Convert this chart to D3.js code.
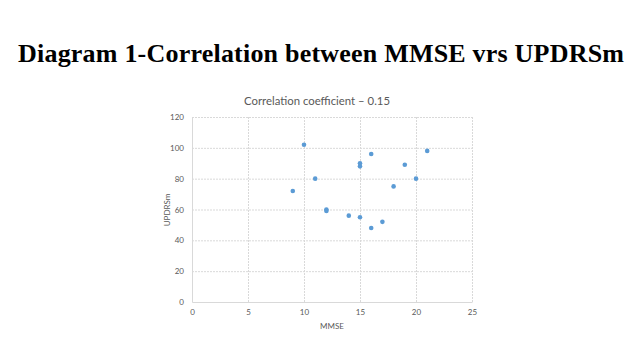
<!DOCTYPE html>
<html>
<head>
<meta charset="utf-8">
<script src="https://cdn.jsdelivr.net/npm/d3@7"></script>
<style>
  body { margin: 0; background: #fff; }
  svg { display: block; }
</style>
</head>
<body>
<div id="chart"></div>
<script>
var mmse   = [9, 10, 11, 12, 12, 14, 15, 15, 15, 16, 16, 17, 18, 19, 20, 21];
var updrsm = [72, 102, 80, 60, 59, 56, 90, 88, 55, 96, 48, 52, 75, 89, 80, 98];
var xTicks = [0, 5, 10, 15, 20, 25];
var yTicks = [0, 20, 40, 60, 80, 100, 120];

var svg = d3.select("#chart")
            .append("svg")
            .attr("width", 640)
            .attr("height", 360);

var x = d3.scaleLinear().domain([0, 25]).range([192, 472]),
    y = d3.scaleLinear().domain([0, 120]).range([302, 117]);

// main title
svg.append("text")
   .attr("x", 321).attr("y", 62)
   .attr("text-anchor", "middle")
   .style("font-family", "'Liberation Serif', 'Times New Roman', serif")
   .style("font-weight", "bold")
   .style("font-size", "26px")
   .attr("textLength", 606)
   .text("Diagram 1-Correlation between MMSE vrs UPDRSm");

// chart title
svg.append("text")
   .attr("x", 317).attr("y", 105)
   .attr("text-anchor", "middle")
   .style("font-family", "Lato, 'Open Sans', sans-serif")
   .style("font-size", "12px")
   .style("fill", "#595959")
   .attr("textLength", 146)
   .attr("lengthAdjust", "spacingAndGlyphs")
   .text("Correlation coefficient \u2013 0.15");

// gridlines
svg.append("g").selectAll("line")
   .data(yTicks.slice(1)).enter().append("line")
   .attr("x1", x(0)).attr("x2", x(25))
   .attr("y1", function(d) { return y(d) + 0.5; })
   .attr("y2", function(d) { return y(d) + 0.5; })
   .attr("stroke", "#d9d9d9").attr("stroke-dasharray", "2,1");
svg.append("g").selectAll("line")
   .data(xTicks.slice(1)).enter().append("line")
   .attr("y1", y(0)).attr("y2", y(120))
   .attr("x1", function(d) { return x(d) + 0.5; })
   .attr("x2", function(d) { return x(d) + 0.5; })
   .attr("stroke", "#d9d9d9").attr("stroke-dasharray", "2,1");

// axes
var xAxis = svg.append("g")
   .attr("transform", "translate(0," + y(0) + ")")
   .call(d3.axisBottom(x).tickValues(xTicks).tickSize(0).tickPadding(7));
var yAxis = svg.append("g")
   .attr("transform", "translate(" + x(0) + ",0)")
   .call(d3.axisLeft(y).tickValues(yTicks).tickSize(0).tickPadding(8));
[xAxis, yAxis].forEach(function(a) {
  a.select(".domain").attr("stroke", "#d9d9d9");
  a.selectAll("text")
   .style("font-family", "Lato, 'Open Sans', sans-serif")
   .style("font-size", "8px")
   .style("fill", "#595959");
});

// axis titles
svg.append("text")
   .attr("x", 332).attr("y", 329)
   .attr("text-anchor", "middle")
   .style("font-family", "Lato, 'Open Sans', sans-serif")
   .style("font-size", "8px")
   .style("fill", "#595959")
   .text("MMSE");
svg.append("text")
   .attr("transform", "translate(170,210) rotate(-90)")
   .attr("text-anchor", "middle")
   .style("font-family", "Lato, 'Open Sans', sans-serif")
   .style("font-size", "8px")
   .style("fill", "#595959")
   .text("UPDRSm");

// points
svg.append("g").selectAll("circle")
   .data(mmse).enter().append("circle")
   .attr("cx", function(d) { return x(d); })
   .attr("cy", function(d, i) { return y(updrsm[i]); })
   .attr("r", 2.3)
   .attr("fill", "#5b9bd5");
</script>
</body>
</html>
